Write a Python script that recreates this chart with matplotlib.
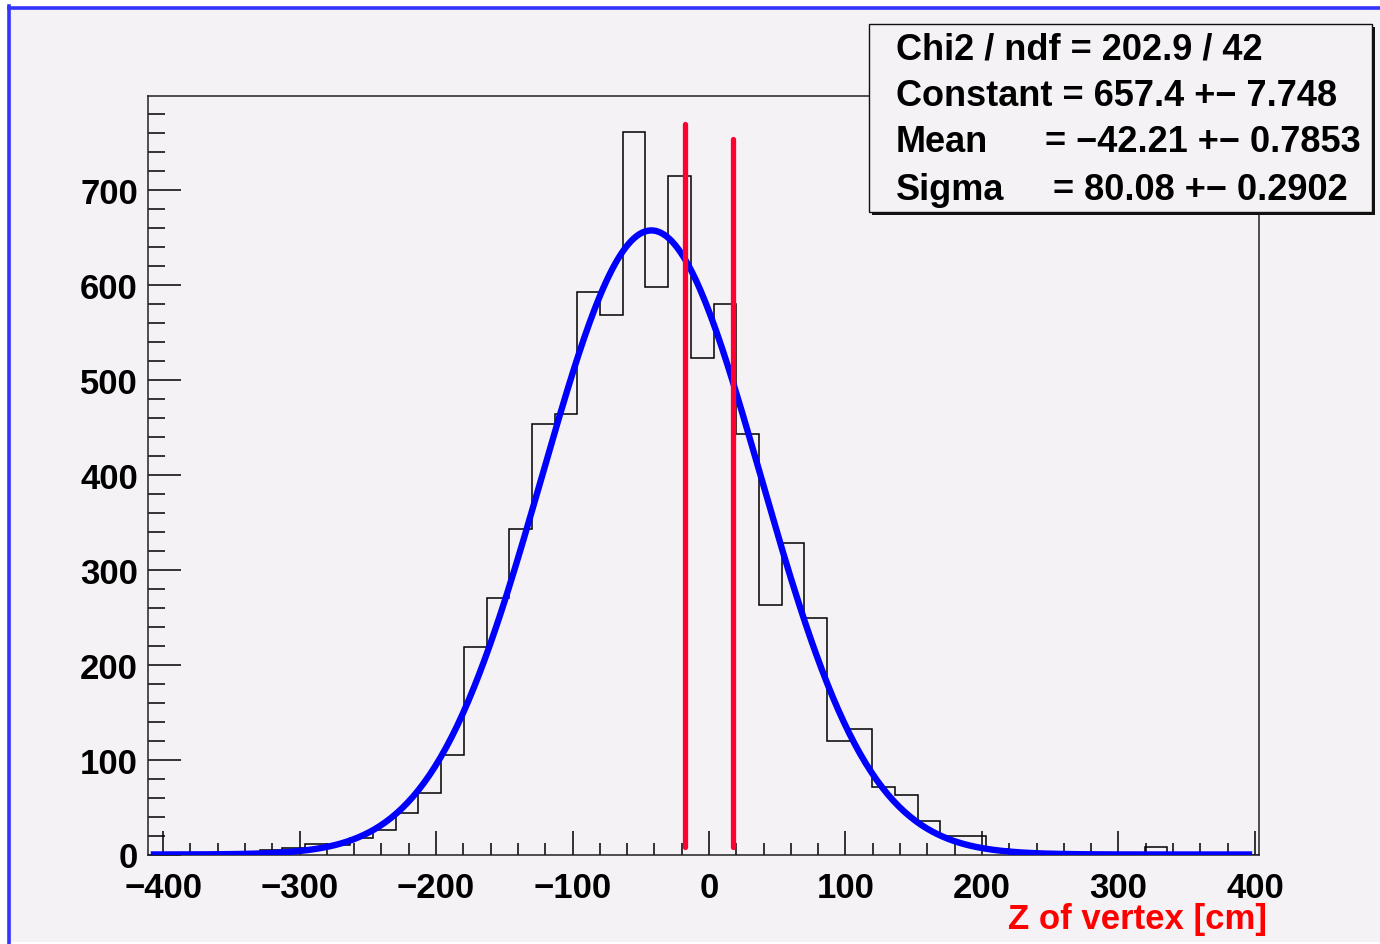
import numpy as np
import matplotlib
matplotlib.use("Agg")
import matplotlib.pyplot as plt
from matplotlib.patches import Rectangle
from matplotlib.lines import Line2D
from matplotlib.ticker import MultipleLocator

# ---------------- data ----------------
bin_left = -395.8
bin_width = 16.63
counts = [0, 1, 2, 3, 5, 7, 11, 10, 17, 26, 44, 65, 105, 219, 270, 343,
          453, 464, 593, 568, 761, 598, 715, 523, 580, 443, 263, 328, 249, 120,
          132, 71, 63, 35, 20, 19, 6, 4, 3, 2, 2, 1, 1, 8, 1, 1, 0, 0]
fit_constant = 657.4
fit_mean = -42.21
fit_sigma = 80.08
fit_range = [-409.0, 398.0]
cut_x = [-17.3, 17.7]
cut_top = [770, 754]
cut_bottom = [8, 8]
x_ticks = [-400, -300, -200, -100, 0, 100, 200, 300, 400]
y_ticks = [0, 100, 200, 300, 400, 500, 600, 700]
stat_lines = [("Chi2 / ndf = 202.9 / 42", None),
              ("Constant = 657.4 +\u2212 7.748", None),
              ("Mean", "= \u221242.21 +\u2212 0.7853"),
              ("Sigma", "= 80.08 +\u2212 0.2902")]
x_title = "Z of vertex [cm]"

# ---------------- style ----------------
W, H = 1380, 945
bg = "#f5f2f6"
FONT = "Liberation Sans"
plt.rcParams["font.family"] = [FONT, "DejaVu Sans"]
plt.rcParams["font.weight"] = "bold"

fig = plt.figure(figsize=(W / 100, H / 100), dpi=100, facecolor="white")

# page background + blue frame
fig.patches.append(Rectangle((8 / W, 2 / H), (W - 8) / W, (H - 10) / H,
                             transform=fig.transFigure, facecolor=bg,
                             edgecolor="none", zorder=-10))
fig.lines.append(Line2D([8.5 / W, 1.0], [1 - 8.5 / H, 1 - 8.5 / H],
                        transform=fig.transFigure, color="#3434ff", lw=2.6, zorder=-5))
fig.lines.append(Line2D([8.5 / W, 8.5 / W], [0, 1 - 7 / H],
                        transform=fig.transFigure, color="#3434ff", lw=2.6, zorder=-5))

left, right, top, bottom = 147.5, 1259, 97, 855.5
ax = fig.add_axes([left / W, 1 - bottom / H, (right - left) / W, (bottom - top) / H])
ax.set_facecolor(bg)
ax.set_xlim(-411.4, 403)
ax.set_ylim(0, 799)

edges = bin_left + bin_width * np.arange(len(counts) + 1)
ax.stairs(counts, edges, color="black", lw=1.1, zorder=2)

xf = np.linspace(fit_range[0], fit_range[1], 400)
yf = fit_constant * np.exp(-0.5 * ((xf - fit_mean) / fit_sigma) ** 2)
ax.plot(xf, yf, color="#0000ff", lw=4.6, zorder=3, solid_capstyle="butt")

for xc, yt, yb in zip(cut_x, cut_top, cut_bottom):
    ax.plot([xc, xc], [yb, yt], color="#ff0030", lw=3.8,
            solid_capstyle="round", zorder=4)

for s in ax.spines.values():
    s.set_linewidth(1.1)
    s.set_color("#222222")

ax.set_xticks(x_ticks)
ax.set_yticks(y_ticks)
ax.xaxis.set_minor_locator(MultipleLocator(20))
ax.yaxis.set_minor_locator(MultipleLocator(20))
ax.tick_params(axis="x", which="major", direction="in", length=17, width=1.1,
               labelsize=25, pad=12, top=False)
ax.tick_params(axis="x", which="minor", direction="in", length=8.5, width=1.1, top=False)
ax.tick_params(axis="y", which="major", direction="in", length=24, width=1.1,
               labelsize=25, pad=7, right=False)
ax.tick_params(axis="y", which="minor", direction="in", length=12, width=1.1, right=False)
for lab in ax.get_xticklabels() + ax.get_yticklabels():
    lab.set_fontweight("bold")

# x title
fig.text(1267 / W, 1 - 920 / H, x_title, color="#ff0000", fontsize=25,
         fontweight="bold", ha="right", va="center")

# stats box with shadow
bx0, by0, bx1, by1 = 869, 24.5, 1372, 213
fig.patches.append(Rectangle(((bx0 + 3) / W, 1 - (by1 + 3) / H), (bx1 - bx0) / W,
                             (by1 - by0) / H, transform=fig.transFigure,
                             facecolor="#111111", edgecolor="none", zorder=5))
fig.patches.append(Rectangle((bx0 / W, 1 - by1 / H), (bx1 - bx0) / W,
                             (by1 - by0) / H, transform=fig.transFigure,
                             facecolor=bg, edgecolor="#111111", lw=1.0, zorder=6))
ys = [50, 97, 143, 190]
eq_x = [None, None, 1045, 1053]
for (lab, rest), yy, ex in zip(stat_lines, ys, eq_x):
    fig.text(896 / W, 1 - yy / H, lab, fontsize=26, fontweight="bold",
             ha="left", va="center", zorder=7)
    if rest is not None:
        fig.text(ex / W, 1 - yy / H, rest, fontsize=26, fontweight="bold",
                 ha="left", va="center", zorder=7)

fig.savefig("out.png", dpi=100, facecolor=fig.get_facecolor())
